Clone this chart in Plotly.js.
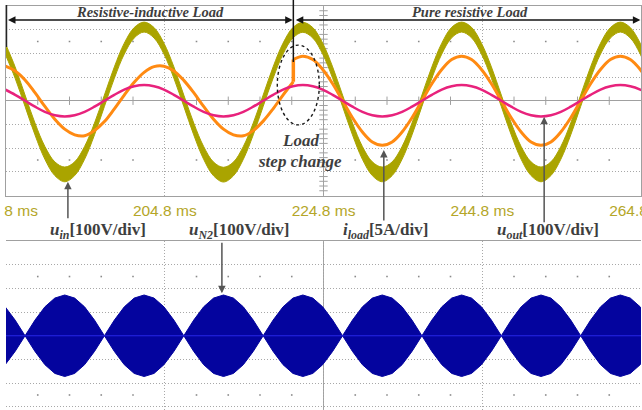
<!DOCTYPE html>
<html><head><meta charset="utf-8">
<script src="https://cdn.plot.ly/plotly-3.0.1.min.js"></script>
<style>html,body{margin:0;padding:0;background:#fff;overflow:hidden}#chart{width:642px;height:410px}</style>
</head><body><div id="chart"></div>
<script>
// sample times (ms)
const time = [184.7,185.95,187.2,188.45,189.7,190.95,192.2,193.45,194.7,195.95,197.2,198.45,199.7,200.95,202.2,203.45,
204.7,205.95,207.2,208.45,209.7,210.95,212.2,213.45,214.7,215.95,217.2,218.45,219.7,220.95,222.2,223.45,
224.7,225.95,227.2,228.45,229.7,230.95,232.2,233.45,234.7,235.95,237.2,238.45,239.7,240.95,242.2,243.45,
244.7,245.95,247.2,248.45,249.7,250.95,252.2,253.45,254.7,255.95,257.2,258.45,259.7,260.95,262.2,263.45,
264.7,265.95];
// input voltage u_in (V)
const uin = [220,119,0,-119,-220,-287,-311,-287,-220,-119,0,119,220,287,311,287,
220,119,0,-119,-220,-288,-312,-288,-220,-119,0,119,220,287,310,287,
220,119,0,-119,-220,-287,-311,-287,-220,-119,0,119,220,288,311,288,
220,119,0,-119,-220,-287,-311,-287,-220,-119,0,119,220,287,311,287,
220,119];
// switching ripple half-band of u_in (V)
const uinRipple = [23,24,24,25,27,29,31,29,27,25,24,24,23,22,21,22,
23,24,24,25,27,29,31,29,27,25,24,24,23,22,21,22,
23,24,24,25,27,29,31,29,27,25,24,24,23,22,21,22,
23,24,24,25,27,29,31,29,27,25,24,24,23,22,21,22,
23,24];
// output voltage u_out (V)
const uout = [47,25,0,-25,-47,-61,-66,-61,-47,-25,0,25,47,61,66,61,
47,25,0,-25,-47,-61,-66,-61,-47,-25,0,25,47,61,66,61,
47,25,0,-25,-47,-61,-66,-61,-47,-25,0,25,47,61,66,61,
47,25,0,-25,-47,-61,-66,-61,-47,-25,0,25,47,61,66,61,
47,25];
// load step instant (ms)
const stepTime = 221.0;
// load current (A), resistive-inductive part: time[0..28] then stepTime
const iloadRL = [7.3,6.3,4.4,1.7,-1.2,-3.9,-6.0,-7.2,-7.4,-6.3,-4.4,-1.7,1.2,3.9,6.0,7.2,
7.3,6.3,4.3,1.7,-1.2,-3.9,-6.0,-7.2,-7.4,-6.3,-4.3,-1.7,1.2,4.0];
// load current (A), pure resistive part: stepTime then time[30..65]
const iloadR = [8.7,9.4,8.7,6.6,3.6,0,-3.6,-6.6,-8.7,-9.4,-8.7,-6.6,-3.6,0,3.6,6.6,8.7,
9.4,8.7,6.6,3.6,0,-3.6,-6.6,-8.7,-9.4,-8.7,-6.6,-3.6,0,3.6,6.6,8.7,9.4,8.7,6.6,3.6];
// envelope of u_N2 (V)
const uN2Env = [122,66,0,66,122,159,172,159,122,66,0,66,122,159,172,159,
122,66,0,66,122,159,172,159,122,66,0,66,122,159,172,159,
122,66,0,66,122,159,172,159,122,66,0,66,122,159,172,159,
122,66,0,66,122,159,172,159,122,66,0,66,122,159,172,159,
122,66];
const timeTicks = [184.8,204.8,224.8,244.8,264.8];
const timeTickText = ['184.8 ms','204.8 ms','224.8 ms','244.8 ms','264.8 ms'];
const VDIV = 100, ADIV = 5;

const OLIVE = '#aaa400', ORANGE = '#ff8a12', PINK = '#e8227c', BLUE = '#04049e';
const GRID = '#a8a8a8', FRAME = '#a0a0a0';

const tRL = time.slice(0,29).concat([stepTime]);
const tR = [stepTime].concat(time.slice(30));
const uinUp = uin.map((v,i)=>(v+uinRipple[i])/VDIV);
const uinLo = uin.map((v,i)=>(v-uinRipple[i])/VDIV);
const envUp = uN2Env.map(v=>v/VDIV);
const envLo = uN2Env.map(v=>-v/VDIV);

// scope graticule decorations
const subT = []; for (let j=1;j<20;j++) if (j%5) subT.push(184.8+4*j);
const subY = []; for (let j=-19;j<20;j++) if (j%5) subY.push(j*0.2);

const traces = [
 {x:subT,y:subT.map(()=>0),type:'scatter',mode:'markers',marker:{symbol:'line-ns',size:6,color:FRAME,line:{width:1,color:FRAME}},xaxis:'x',yaxis:'y',hoverinfo:'skip'},
 {x:subY.map(()=>224.8),y:subY,type:'scatter',mode:'markers',marker:{symbol:'line-ew',size:6,color:FRAME,line:{width:1,color:FRAME}},xaxis:'x',yaxis:'y',hoverinfo:'skip'},
 {x:subT.concat(subT),y:subT.map(()=>2.5).concat(subT.map(()=>-2.5)),type:'scatter',mode:'markers',marker:{symbol:'square',size:1.6,color:'#8a8a8a'},xaxis:'x',yaxis:'y',hoverinfo:'skip'},
 {x:subT.concat(subT),y:subT.map(()=>2.5).concat(subT.map(()=>-2.5)),type:'scatter',mode:'markers',marker:{symbol:'square',size:1.6,color:'#8a8a8a'},xaxis:'x2',yaxis:'y2',hoverinfo:'skip'},
 {x:time,y:uinLo,type:'scatter',mode:'lines',line:{shape:'spline',color:OLIVE,width:1},xaxis:'x',yaxis:'y',hoverinfo:'skip'},
 {x:time,y:uinUp,type:'scatter',mode:'lines',fill:'tonexty',fillcolor:OLIVE,line:{shape:'spline',color:OLIVE,width:1},xaxis:'x',yaxis:'y',hoverinfo:'skip'},
 {x:tRL,y:iloadRL.map(v=>v/ADIV),type:'scatter',mode:'lines',line:{shape:'spline',color:ORANGE,width:3},xaxis:'x',yaxis:'y'},
 {x:[stepTime,stepTime],y:[iloadRL[iloadRL.length-1]/ADIV,iloadR[0]/ADIV],type:'scatter',mode:'lines',line:{color:ORANGE,width:3.5},xaxis:'x',yaxis:'y'},
 {x:tR,y:iloadR.map(v=>v/ADIV),type:'scatter',mode:'lines',line:{shape:'spline',color:ORANGE,width:3},xaxis:'x',yaxis:'y'},
 {x:time,y:uout.map(v=>v/VDIV),type:'scatter',mode:'lines',line:{shape:'spline',color:PINK,width:2.5},xaxis:'x',yaxis:'y'},
 {x:time.concat(time.slice().reverse()),y:envUp.concat(envLo.slice().reverse()),type:'scatter',mode:'lines',fill:'toself',fillcolor:BLUE,line:{color:BLUE,width:1},xaxis:'x2',yaxis:'y2'}
];

const serif = 'Liberation Serif, Times New Roman, serif';
const txt = '#3e3e3e';
const H = 410, T = 6, PH = 404;
const py = px => (H - px) / PH; // page pixel row -> paper fraction

const layout = {
 width:642,height:410,margin:{l:6,r:1,t:T,b:0},paper_bgcolor:'#fff',plot_bgcolor:'#fff',showlegend:false,
 xaxis:{domain:[0,1],anchor:'y',range:[184.8,264.8],tickmode:'array',tickvals:timeTicks,ticktext:timeTickText,ticks:'',
   ticklabelstandoff:1,ticklabeloverflow:'allow',tickfont:{family:'Liberation Sans, Arial, sans-serif',size:15.5,color:'#b4a628'},
   showgrid:true,gridcolor:GRID,griddash:'1px,2px',gridwidth:1,showline:true,mirror:true,linecolor:FRAME,linewidth:1,zeroline:false,fixedrange:true},
 yaxis:{domain:[py(195.5),1],anchor:'x',range:[-4,4],tickmode:'linear',tick0:0,dtick:1,showticklabels:false,ticks:'',
   showgrid:true,gridcolor:GRID,griddash:'1px,2px',gridwidth:1,zeroline:true,zerolinecolor:FRAME,zerolinewidth:1,
   showline:true,mirror:true,linecolor:FRAME,linewidth:1,fixedrange:true},
 xaxis2:{domain:[0,1],anchor:'y2',range:[184.8,264.8],tickmode:'array',tickvals:timeTicks,showticklabels:false,ticks:'',
   showgrid:true,gridcolor:GRID,griddash:'1px,2px',gridwidth:1,showline:true,mirror:true,linecolor:FRAME,linewidth:1,zeroline:false,fixedrange:true},
 yaxis2:{domain:[0,py(241)],anchor:'x2',range:[-(H-241)/23.69+4,4],tickmode:'linear',tick0:0,dtick:1,showticklabels:false,ticks:'',
   showgrid:true,gridcolor:GRID,griddash:'1px,2px',gridwidth:1,zeroline:false,showline:false,fixedrange:true},
 shapes:[
   {type:'line',xref:'x',yref:'y domain',x0:224.8,x1:224.8,y0:0,y1:1,line:{color:FRAME,width:1},layer:'below'},
   {type:'line',xref:'x2',yref:'y2 domain',x0:224.8,x1:224.8,y0:0,y1:1,line:{color:FRAME,width:1},layer:'below'},
   {type:'line',xref:'x2',yref:'y2',x0:184.8,x1:264.8,y0:0,y1:0,line:{color:'#2626e6',width:1},layer:'above'},
   {type:'line',xref:'x',yref:'paper',x0:stepTime,x1:stepTime,y0:py(62),y1:py(0),line:{color:'#151515',width:1.5}},
   {type:'line',xref:'x',yref:'paper',x0:184.86,x1:184.86,y0:py(47),y1:py(5),line:{color:'#252525',width:1.5}},
   {type:'circle',xref:'x',yref:'y',x0:218.98,x1:224.27,y0:-1.02,y1:2.35,line:{color:'#1a1a1a',width:1.4,dash:'dot'},layer:'above'},
   {type:'rect',xref:'paper',yref:'paper',x0:-0.01,x1:-0.0032,y0:py(225),y1:py(196),fillcolor:'#fff',line:{width:0},layer:'above'}
 ],
 annotations:[
   {xref:'x',yref:'y',x:stepTime-0.08,y:3.41,axref:'x',ayref:'y',ax:184.86,ay:3.41,text:'',showarrow:true,arrowside:'end+start',arrowhead:2,startarrowhead:2,arrowsize:1,startarrowsize:1,arrowwidth:1.5,arrowcolor:'#151515'},
   {xref:'x',yref:'y',x:264.72,y:3.41,axref:'x',ayref:'y',ax:stepTime+0.12,ay:3.41,text:'',showarrow:true,arrowside:'end+start',arrowhead:2,startarrowhead:2,arrowsize:1,startarrowsize:1,arrowwidth:1.5,arrowcolor:'#151515'},
   {xref:'x',yref:'y',x:203.0,y:3.74,text:'<b><i>Resistive-inductive Load</i></b>',showarrow:false,font:{family:serif,size:14.5,color:txt}},
   {xref:'x',yref:'y',x:243.3,y:3.74,text:'<b><i>Pure resistive Load</i></b>',showarrow:false,font:{family:serif,size:14.5,color:txt}},
   {xref:'x',yref:'y',x:221.84,y:-1.66,text:'<b><i>Load</i></b>',showarrow:false,font:{family:serif,size:17,color:txt}},
   {xref:'x',yref:'y',x:221.78,y:-2.57,text:'<b><i>step change</i></b>',showarrow:false,font:{family:serif,size:17,color:txt}},
   {xref:'x',yref:'y',x:192.6,y:-3.42,ax:0,ay:38,text:'',showarrow:true,arrowhead:2,arrowsize:1,arrowwidth:1.5,arrowcolor:'#555'},
   {xref:'x2',yref:'y2',x:212.0,y:1.79,ax:0,ay:-52,text:'',showarrow:true,arrowhead:2,arrowsize:1,arrowwidth:1.5,arrowcolor:'#555'},
   {xref:'x',yref:'y',x:232.4,y:-2.08,ax:0,ay:72,text:'',showarrow:true,arrowhead:2,arrowsize:1,arrowwidth:1.5,arrowcolor:'#555'},
   {xref:'x',yref:'y',x:252.6,y:-0.68,ax:0,ay:107,text:'',showarrow:true,arrowhead:2,arrowsize:1,arrowwidth:1.5,arrowcolor:'#555'},
   {xref:'x',yref:'paper',x:190.09,y:py(231),xanchor:'left',yanchor:'middle',text:'<b><i>u</i><sub><i>in</i></sub>[100V/div]</b>',showarrow:false,font:{family:serif,size:17,color:txt}},
   {xref:'x',yref:'paper',x:207.6,y:py(231),xanchor:'left',yanchor:'middle',text:'<b><i>u</i><sub><i>N2</i></sub>[100V/div]</b>',showarrow:false,font:{family:serif,size:17,color:txt}},
   {xref:'x',yref:'paper',x:226.97,y:py(231),xanchor:'left',yanchor:'middle',text:'<b><i>i</i><sub><i>load</i></sub>[5A/div]</b>',showarrow:false,font:{family:serif,size:17,color:txt}},
   {xref:'x',yref:'paper',x:246.4,y:py(231),xanchor:'left',yanchor:'middle',text:'<b><i>u</i><sub><i>out</i></sub>[100V/div]</b>',showarrow:false,font:{family:serif,size:17,color:txt}}
 ]
};
Plotly.newPlot('chart',traces,layout,{displayModeBar:false,staticPlot:true});
</script></body></html>
